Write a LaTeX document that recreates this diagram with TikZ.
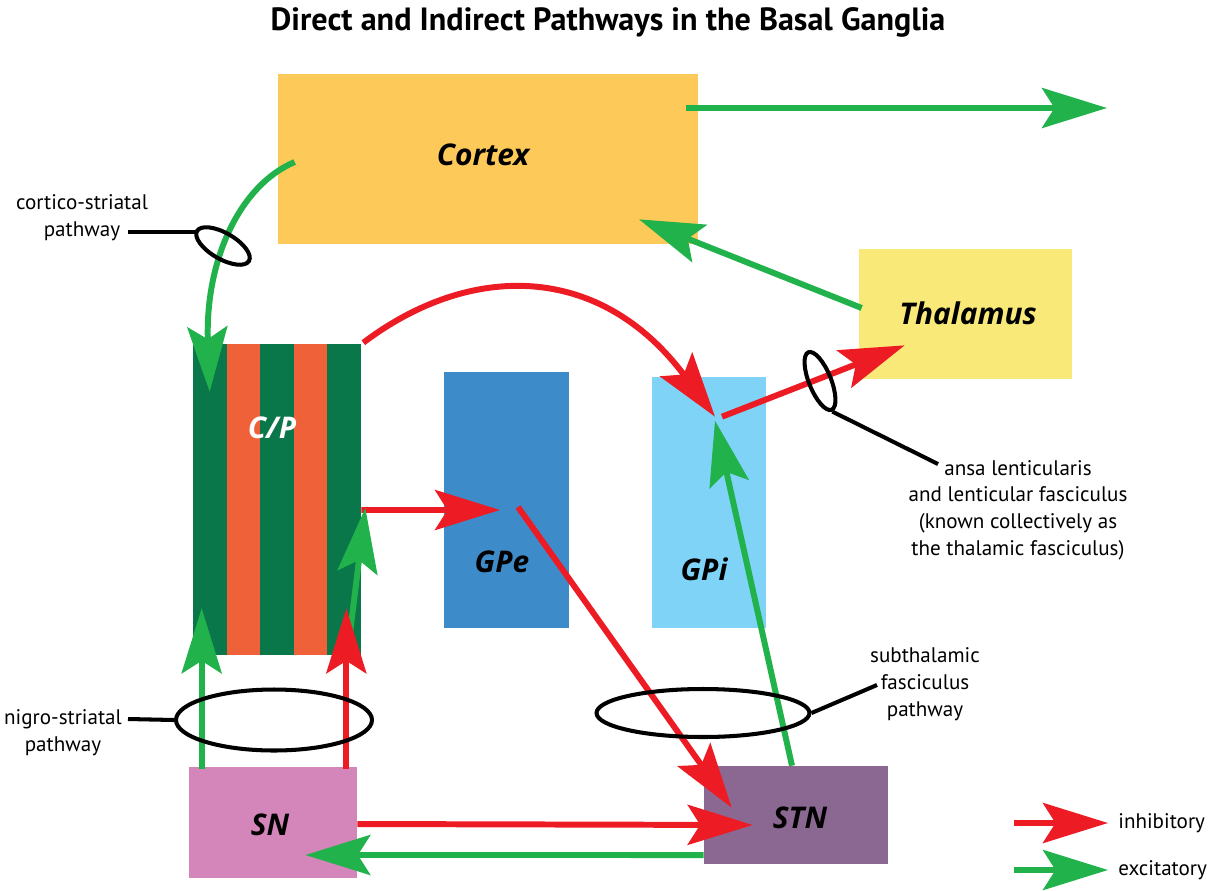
\documentclass[tikz,border=0pt]{standalone}
\usepackage{fontspec}
\setmainfont{Open Sans}
\newfontfamily\notefont{PT Sans}
\usetikzlibrary{arrows.meta,calc,shapes.geometric}

\definecolor{cortexc}{RGB}{253,202,90}
\definecolor{thalc}{RGB}{249,233,120}
\definecolor{cpgreen}{RGB}{10,119,74}
\definecolor{cporange}{RGB}{239,98,57}
\definecolor{gpec}{RGB}{61,139,201}
\definecolor{gpic}{RGB}{126,211,247}
\definecolor{snc}{RGB}{212,134,186}
\definecolor{stnc}{RGB}{138,104,146}
\definecolor{inhc}{RGB}{237,28,36}
\definecolor{excc}{RGB}{34,178,76}

\tikzset{
  region/.style n args={3}{fill=#1, inner sep=0pt, minimum width=#2, minimum height=#3},
  lbl/.style={font=\fontsize{17}{20}\selectfont\bfseries\itshape},
  note/.style={font=\notefont\fontsize{12}{15.2}\selectfont, align=center, inner sep=0pt},
  tip/.style={-{Stealth[length=1.3cm,width=0.8cm,inset=0.25cm]}},
  inh/.style={tip, draw=inhc, line width=3.4pt},
  exc/.style={tip, draw=excc, line width=3.4pt},
  loop/.style={ellipse, draw=black, line width=2.3pt, inner sep=0pt},
  pointer/.style={draw=black, line width=2.3pt}
}

\begin{document}
\begin{tikzpicture}[x=0.02cm,y=-0.02cm]
  \useasboundingbox (0,0) rectangle (1211,890);

  %%%%% TITLE %%%%%
  \node[font=\notefont\fontsize{18.3}{20}\selectfont\bfseries] (title) at (608,22)
    {Direct and Indirect Pathways in the Basal Ganglia};

  %%%%% REGIONS %%%%%
  \node[region={cortexc}{8.4cm}{3.4cm}] (cortex) at (488,159) {};
  \node[lbl] at (483,155) {Cortex};
  \node[region={thalc}{4.26cm}{2.6cm}] (thal) at (965.5,314) {};
  \node[lbl] at (968,313) {Thalamus};

  % striped caudate / putamen
  \node[region={cpgreen}{3.36cm}{6.22cm}] (cp) at (277,499.5) {};
  \foreach \i in {1,3}
    \fill[cporange] (193+\i*33.6,344) rectangle (193+\i*33.6+33.6,655);
  \node[lbl, text=white] at (272,428) {C/P};

  \node[region={gpec}{2.5cm}{5.12cm}] (gpe) at (506.5,500) {};
  \node[lbl] at (502,562) {GPe};
  \node[region={gpic}{2.28cm}{5.02cm}] (gpi) at (709,502.5) {};
  \node[lbl] at (704,569) {GPi};
  \node[region={snc}{3.36cm}{2.22cm}] (sn) at (273,822.5) {};
  \node[lbl] at (270,825) {SN};
  \node[region={stnc}{3.68cm}{1.96cm}] (stn) at (796,815) {};
  \node[lbl] at (800,818) {STN};

  %%%%% PATHWAYS %%%%%
  \coordinate (out) at (1107,108);
  \draw[exc] ($(cortex.east)+(-12,-51)$) -- (out);
  \draw[exc] ($(thal.west)+(3,-6)$) -- ($(cortex.south)+(151,-25)$);
  \draw[exc] ($(cortex.west)+(17,3)$) .. controls (240,185) and (205,260) .. ($(cp.north west)+(17,48)$);
  \draw[inh] ($(cp.north east)+(2,-1)$) .. controls (470,262) and (600,262) .. ($(gpi.north)+(6,40)$);
  \draw[inh] ($(gpi.north)+(13,40)$) -- ($(thal.south west)+(46,-34)$);
  \draw[exc] ($(stn.north)+(-4,0)$) -- ($(gpi.north)+(6,44)$);
  \draw[inh] ($(cp.east)+(0,10.5)$) -- ($(gpe.center)+(-6.5,10)$);
  \draw[inh] ($(gpe.center)+(11.5,7)$) -- ($(stn.north west)+(28,42)$);
  \draw[exc] ($(sn.north west)+(13,2)$) -- ($(cp.south west)+(9,-47)$);
  \draw[exc] ($(cp.south east)+(-14,0)$) -- ($(cp.east)+(4,8.5)$);
  \draw[inh] ($(sn.north east)+(-11,2)$) -- ($(cp.south east)+(-15,-47)$);
  \draw[inh] ($(sn.east)+(0,1.5)$) -- ($(stn.west)+(49,10)$);
  \draw[exc] ($(stn.west)+(0,40)$) -- ($(sn.east)+(-52,32.5)$);

  %%%%% FIBRE BUNDLES %%%%%
  \node[loop, minimum width=1.2cm, minimum height=0.52cm, rotate=-30] (csloop) at (223,246) {};
  \node[note] (cstext) at (82,218) {cortico-striatal\\pathway};
  \coordinate (csend) at (128,232);
  \draw[pointer] (csloop.west |- csend) -- (csend);

  \node[loop, minimum width=3.92cm, minimum height=1.22cm] (nsloop) at (274,720) {};
  \node[note] (nstext) at (63,733) {nigro-striatal\\pathway};
  \coordinate (nsend) at (128,719);
  \draw[pointer] (nsloop.west) -- (nsend);

  \node[loop, minimum width=4.26cm, minimum height=0.96cm] (sfloop) at (703,713) {};
  \node[note] (sftext) at (925,684) {subthalamic\\fasciculus\\pathway};
  \coordinate (sfend) at (877,685);
  \draw[pointer] (sfloop.east) -- (sfend);

  \node[loop, minimum width=1.24cm, minimum height=0.44cm, rotate=-68] (alloop) at (820,381) {};
  \node[note] (altext) at (1018,510) {ansa lenticularis\\and lenticular fasciculus\\(known collectively as\\the thalamic fasciculus)};
  \coordinate (alend) at (938,464);
  \draw[pointer] (alloop.east) -- (alend);

  %%%%% LEGEND %%%%%
  \coordinate (inh-a) at (1014,823);
  \coordinate (inh-b) at (1108,823);
  \coordinate (exc-a) at (1014,870);
  \coordinate (exc-b) at (1108,870);
  \draw[inh] (inh-a) -- (inh-b);
  \draw[exc] (exc-a) -- (exc-b);
  \node[note, anchor=west] (inhtext) at (1118,823) {inhibitory};
  \node[note, anchor=west] (exctext) at (1118,870) {excitatory};
\end{tikzpicture}
\end{document}
